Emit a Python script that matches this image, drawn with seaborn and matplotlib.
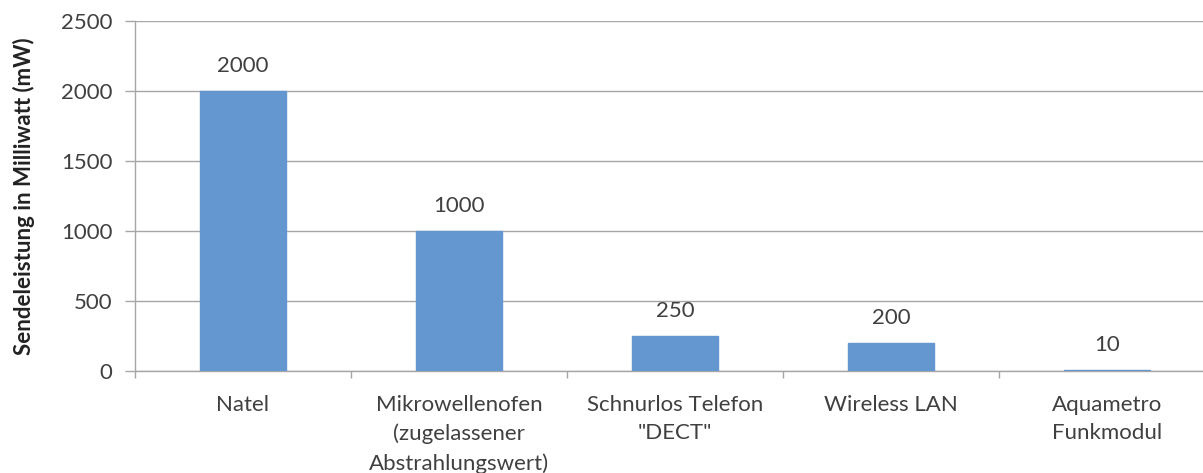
import matplotlib
matplotlib.use("Agg")
import matplotlib.pyplot as plt
from matplotlib.ticker import FixedLocator, MultipleLocator
import seaborn as sns
import pandas as pd

categories = ["Natel",
              "Mikrowellenofen\n(zugelassener\nAbstrahlungswert)",
              "Schnurlos Telefon\n\"DECT\"",
              "Wireless LAN",
              "Aquametro\nFunkmodul"]
values = [2000, 1000, 250, 200, 10]
y_label = "Sendeleistung in Milliwatt (mW)"

sns.set_theme(style="white")
plt.rcParams['font.family'] = ['Lato', 'DejaVu Sans']

TEXT = "#404040"
GRID = "#a6a6a6"
BAR = "#6497cf"
FS = 16

W, H = 1203, 473
fig = plt.figure(figsize=(W / 100, H / 100), dpi=100)
ax = fig.add_axes([135 / W, 102 / H, 1080 / W, 350 / H])

df = pd.DataFrame({"cat": categories, "val": values})
sns.barplot(data=df, x="cat", y="val", color=BAR, width=0.4, ax=ax,
            saturation=1, zorder=3, edgecolor=BAR, linewidth=1)

ax.set_ylim(0, 2500)
ax.set_xlim(-0.5, len(categories) - 0.5)
ax.yaxis.set_major_locator(MultipleLocator(500))
ax.grid(axis="y", color=GRID, linewidth=1, zorder=0)
ax.set_axisbelow(True)

for s in ["top", "right"]:
    ax.spines[s].set_visible(False)
for s in ["left", "bottom"]:
    ax.spines[s].set_color(GRID)
    ax.spines[s].set_linewidth(1)

ax.tick_params(axis="y", which="major", direction="out", length=7.2, width=1,
               color=GRID, pad=9, labelsize=FS, labelcolor=TEXT, left=True)
ax.tick_params(axis="x", which="major", length=0, pad=17, labelsize=FS,
               labelcolor=TEXT)
ax.xaxis.set_minor_locator(FixedLocator([i - 0.5 for i in range(len(categories) + 1)]))
ax.tick_params(axis="x", which="minor", direction="out", length=5, width=1,
               color=GRID, bottom=True)
for lbl in ax.get_xticklabels():
    lbl.set_linespacing(1.54)
    lbl.set_verticalalignment("top")

ax.set_xlabel("")
ax.set_ylabel(y_label, fontsize=FS, fontweight="bold", color="#222222", labelpad=19)

for i, v in enumerate(values):
    ax.annotate(f"{v}", xy=(i, v), xytext=(0, 15), textcoords="offset pixels",
                ha="center", va="bottom", fontsize=FS, color=TEXT)

fig.savefig("out.png", dpi=100)
